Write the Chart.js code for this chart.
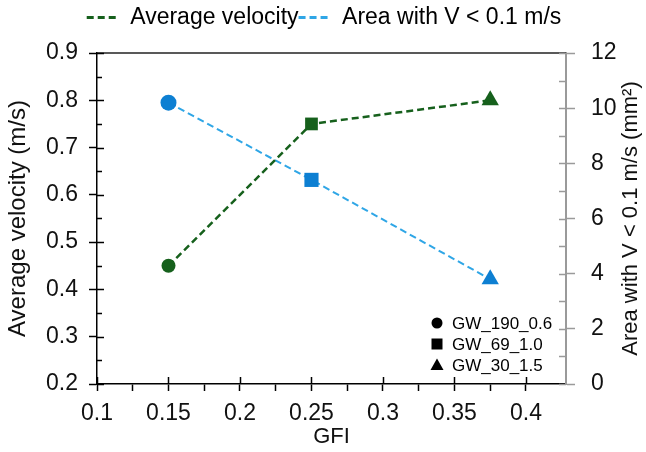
<!DOCTYPE html>
<html>
<head>
<meta charset="utf-8">
<script src="https://cdn.jsdelivr.net/npm/chart.js@4.4.1/dist/chart.umd.min.js"></script>
<style>
  html, body { margin: 0; padding: 0; background: #fff; }
  #wrap { width: 646px; height: 452px; }
</style>
</head>
<body>
<div id="wrap"><canvas id="gfiChart"></canvas></div>
<script>
// data
const gfi = [0.15, 0.25, 0.375];
const avgVelocity = [0.45, 0.75, 0.80];
const lowVelArea = [10.2, 7.4, 3.8];
const caseNames = ['GW_190_0.6', 'GW_69_1.0', 'GW_30_1.5'];
const markerShapes = ['circle', 'rect', 'triangle'];
const xTickLabels = ['0.1', '0.15', '0.2', '0.25', '0.3', '0.35', '0.4'];

const green = '#16601c';
const blue = '#0d7fd2';
const blueLine = '#2fa6e6';
const font = 'Liberation Sans, Arial, sans-serif';
const fs = 22;
const tickFs = 23;

// labelled ticks black, unlabelled ones hidden (drawn inside by the plugin)
const majorOnly = (c) => (c.tick && c.tick.label !== '' ? '#000' : 'rgba(0,0,0,0)');

// inner half of the ticks, top frame line, right title, marker legend
const extrasPlugin = {
  id: 'extras',
  afterDraw(chart) {
    const ctx = chart.ctx;
    const area = chart.chartArea;
    const sx = chart.scales.x, sy = chart.scales.y, sy2 = chart.scales.y2;

    ctx.save();
    ctx.lineWidth = 1.5;
    ctx.strokeStyle = '#222';
    ctx.beginPath();
    ctx.moveTo(area.left, area.top);
    ctx.lineTo(area.right, area.top);
    ctx.stroke();

    ctx.strokeStyle = '#000';
    ctx.beginPath();
    sx.ticks.forEach(t => {
      if (t.label === '') return;
      const px = Math.round(sx.getPixelForValue(t.value)) + 0.5;
      ctx.moveTo(px, area.bottom);
      ctx.lineTo(px, area.bottom - 7);
    });
    sy.ticks.forEach(t => {
      const py = Math.round(sy.getPixelForValue(t.value)) + 0.5;
      ctx.moveTo(area.left, py);
      ctx.lineTo(area.left + (t.label === '' ? 5 : 7), py);
    });
    ctx.stroke();

    ctx.strokeStyle = '#9a9a9a';
    ctx.beginPath();
    sy2.ticks.forEach(t => {
      const py = Math.round(sy2.getPixelForValue(t.value)) + 0.5;
      ctx.moveTo(area.right, py);
      ctx.lineTo(area.right - 7, py);
    });
    ctx.stroke();
    ctx.restore();

    // right axis title, read bottom to top
    ctx.save();
    ctx.fillStyle = '#111';
    ctx.font = fs + 'px ' + font;
    ctx.translate(sy2.right - 15, (area.top + area.bottom) / 2);
    ctx.rotate(-Math.PI / 2);
    ctx.textAlign = 'center';
    ctx.textBaseline = 'middle';
    ctx.fillText('Area with V < 0.1 m/s (mm²)', 0, 0);
    ctx.restore();

    // marker legend
    ctx.save();
    ctx.font = '17px ' + font;
    ctx.fillStyle = '#000';
    ctx.textBaseline = 'middle';
    const lx = area.right - 129, ly = area.bottom - 61;
    caseNames.forEach((name, i) => {
      const y = ly + i * 21;
      ctx.beginPath();
      if (markerShapes[i] === 'circle') {
        ctx.arc(lx, y, 5.5, 0, Math.PI * 2);
      } else if (markerShapes[i] === 'rect') {
        ctx.rect(lx - 5.5, y - 5.5, 11, 11);
      } else {
        ctx.moveTo(lx, y - 6.5);
        ctx.lineTo(lx + 6.5, y + 5);
        ctx.lineTo(lx - 6.5, y + 5);
        ctx.closePath();
      }
      ctx.fill();
      ctx.fillText(name, lx + 15, y + 1);
    });
    ctx.restore();
  }
};

document.addEventListener('DOMContentLoaded', function() {
  const data = {
    datasets: [{
      label: 'Average velocity',
      data: gfi.map((x, i) => ({ x: x, y: avgVelocity[i] })),
      yAxisID: 'y',
      borderColor: green,
      backgroundColor: green,
      borderWidth: 2.5,
      borderDash: [7, 4],
      pointStyle: markerShapes,
      pointRadius: [7, 9, 10],
      pointBorderWidth: 0,
      pointBackgroundColor: green,
      pointHoverRadius: 8
    }, {
      label: 'Area with V < 0.1 m/s',
      data: gfi.map((x, i) => ({ x: x, y: lowVelArea[i] })),
      yAxisID: 'y2',
      borderColor: blueLine,
      backgroundColor: blue,
      borderWidth: 2,
      borderDash: [7, 4],
      pointStyle: markerShapes,
      pointRadius: [8, 10, 10],
      pointBorderWidth: 0,
      pointBackgroundColor: blue,
      pointHoverRadius: 8
    }]
  };

  const options = {
    responsive: true,
    maintainAspectRatio: false,
    animation: false,
    layout: { padding: { top: 6, left: 2, right: 0, bottom: 2 } },
    plugins: {
      tooltip: { enabled: false },
      legend: {
        position: 'top',
        labels: {
          color: '#111',
          font: { family: font, size: 23 },
          usePointStyle: true,
          pointStyleWidth: 32,
          padding: 0,
          generateLabels(chart) {
            return chart.data.datasets.map((ds, i) => ({
              text: ds.label,
              pointStyle: 'line',
              fillStyle: ds.borderColor,
              strokeStyle: ds.borderColor,
              lineWidth: 3,
              lineDash: [7, 4],
              datasetIndex: i
            }));
          }
        }
      }
    },
    scales: {
      x: {
        type: 'linear',
        min: 0.1,
        max: 0.428,
        afterBuildTicks(axis) {
          const t = [];
          for (let i = 0; i < xTickLabels.length * 2 - 1; i++) t.push({ value: 0.1 + i * 0.025 });
          axis.ticks = t;
        },
        afterFit(scale) { scale.height = 66; },
        ticks: {
          color: '#111',
          font: { family: font, size: tickFs },
          autoSkip: false,
          maxRotation: 0,
          padding: 9,
          callback: (v, i) => (i % 2 === 0 ? xTickLabels[i / 2] : '')
        },
        grid: { drawOnChartArea: false, drawTicks: true, tickLength: 7, tickWidth: 1.5, tickColor: '#000' },
        border: { color: '#000', width: 1.5 },
        title: { display: true, text: 'GFI', color: '#111', font: { family: font, size: fs }, padding: { top: 0, bottom: 0 } }
      },
      y: {
        position: 'left',
        min: 0.2,
        max: 0.9,
        afterFit(scale) { scale.width = 95; },
        ticks: {
          stepSize: 0.05,
          autoSkip: false,
          color: '#111',
          font: { family: font, size: tickFs },
          padding: 11,
          callback: (v, i) => (i % 2 === 0 ? v.toFixed(1) : '')
        },
        grid: { drawOnChartArea: false, drawTicks: true, tickLength: 8, tickWidth: 1.5, tickColor: majorOnly },
        border: { color: '#000', width: 1.5 },
        title: { display: true, text: 'Average velocity (m/s)', color: '#111', font: { family: font, size: 24 }, padding: { top: 2, bottom: 2 } }
      },
      y2: {
        position: 'right',
        min: 0,
        max: 12,
        afterFit(scale) { scale.width = 80; },
        ticks: {
          stepSize: 1,
          autoSkip: false,
          color: '#111',
          font: { family: font, size: tickFs },
          padding: 16,
          callback: (v, i) => (i % 2 === 0 ? String(v) : '')
        },
        grid: { drawOnChartArea: false, drawTicks: true, tickLength: 9, tickWidth: 1.5,
          tickColor: (c) => (c.tick && c.tick.label !== '' ? '#9a9a9a' : 'rgba(0,0,0,0)') },
        border: { color: '#9a9a9a', width: 2 },
        title: { display: false }
      }
    }
  };

  new Chart(document.getElementById('gfiChart').getContext('2d'), {
    type: 'line',
    data: data,
    options: options,
    plugins: [extrasPlugin, {
      id: 'legendGap',
      beforeInit(c) {
        const fit = c.legend.fit;
        c.legend.fit = function() {
          fit.bind(c.legend)();
          this.height = 47;
        };
      }
    }]
  });
});
</script>
</body>
</html>
